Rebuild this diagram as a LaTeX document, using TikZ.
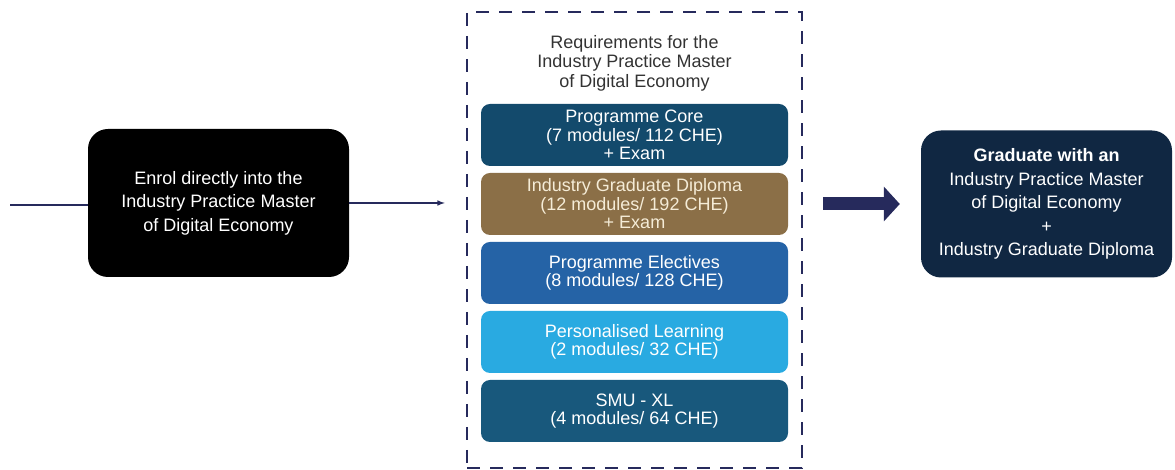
\documentclass[tikz,border=0pt]{standalone}
\usepackage{fontspec}
\setmainfont{Liberation Sans}
\usepackage{tikz}
\usetikzlibrary{arrows, arrows.meta, positioning}

\definecolor{navy}{HTML}{262A5C}
\definecolor{coreblue}{HTML}{134A6C}
\definecolor{diplobrown}{HTML}{8B6F47}
\definecolor{elecblue}{HTML}{2563A6}
\definecolor{perslight}{HTML}{29AAE1}
\definecolor{smublue}{HTML}{18587C}
\definecolor{gradnavy}{HTML}{102742}
\definecolor{cream}{HTML}{F5ECD7}

\tikzset{
  bigbox/.style={rounded corners=20pt, text=white, align=center, inner sep=0pt,
    font=\fontsize{18}{23.5}\selectfont},
  block/.style={rounded corners=9pt, text=white, align=center, inner sep=0pt,
    minimum width=307pt, minimum height=62pt, font=\fontsize{18}{18.5}\selectfont},
}

\begin{document}
\begin{tikzpicture}[x=1pt, y=1pt]
  \useasboundingbox (0,0) rectangle (1175,470);

  % start, requirements frame, finish
  \coordinate (start) at (10,265);
  \node[bigbox, fill=black, minimum width=261pt, minimum height=148pt] (enrol) at (218.5,267)
    {Enrol directly into the\\Industry Practice Master\\of Digital Economy};
  \node[draw=navy, line width=2.5pt, dash pattern=on 13pt off 10pt,
    minimum width=335pt, minimum height=456pt] (req) at (634.5,230) {};
  \node[align=center, text=black!80, font=\fontsize{18}{19.5}\selectfont] (title) at (634.5,407)
    {Requirements for the\\Industry Practice Master\\of Digital Economy};
  \node[bigbox, fill=gradnavy, minimum width=251pt, minimum height=147pt] (grad) at (1046.5,266)
    {\textbf{Graduate with an}\\Industry Practice Master\\of Digital Economy\\+\\Industry Graduate Diploma};

  % the five blocks
  \foreach \i/\name/\col/\txt in {
      0/core/coreblue/{Programme Core\\(7 modules/ 112 CHE)\\+ Exam},
      1/diploma/diplobrown/{\color{cream}Industry Graduate Diploma\\\color{cream}(12 modules/ 192 CHE)\\\color{cream}+ Exam},
      2/electives/elecblue/{Programme Electives\\(8 modules/ 128 CHE)},
      3/personal/perslight/{Personalised Learning\\(2 modules/ 32 CHE)},
      4/smu/smublue/{SMU - XL\\(4 modules/ 64 CHE)}} {
    \node[block, fill=\col] (\name) at (634.5,335-69*\i) {\txt};
  }

  \draw[-, line width=1.5pt, navy] (start) -- (start -| enrol.west);
  \draw[->, line width=1.5pt, navy, >=latex, shorten >=21pt] (enrol.east) -- (enrol.east -| req.west);
  \draw[-{Triangle[length=16pt, width=34pt]}, line width=13pt, navy, shorten <=20pt, shorten >=21pt]
    (req.east |- grad.west) -- (grad.west);
\end{tikzpicture}
\end{document}
